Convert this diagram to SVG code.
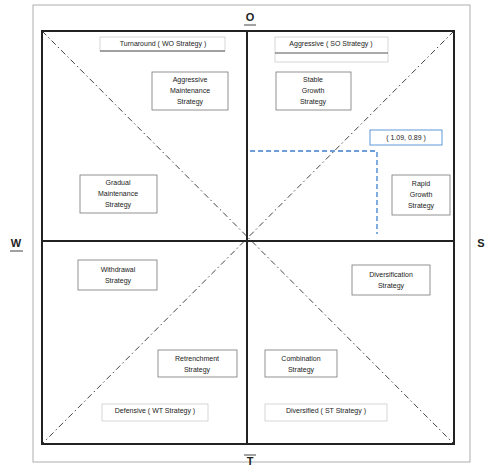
<svg xmlns="http://www.w3.org/2000/svg" width="486" height="469" viewBox="0 0 486 469">
<defs>
<style>
text{font-family:"Liberation Sans",Arial,sans-serif;fill:#222;text-anchor:middle}
.t{font-size:7px}
.h{font-size:7px}
.ax{font-size:11px;font-weight:bold}
.box{fill:#fff;stroke:#777;stroke-width:0.8}
.hb{fill:none;stroke:#bbb;stroke-width:0.6}
.ul{stroke:#555;stroke-width:1}
.diag{stroke:#444;stroke-width:1;stroke-dasharray:6 3 1.5 3;fill:none}
</style>
</defs>
<rect x="33" y="5" width="437" height="457" fill="none" stroke="#999" stroke-width="0.8"/>
<g id="connectors">
<line class="diag" x1="42" y1="31" x2="454" y2="444"/>
<line class="diag" x1="454" y1="31" x2="42" y2="444"/>
<line x1="42" y1="241" x2="454" y2="241" stroke="#222" stroke-width="2"/>
<line x1="247" y1="31" x2="247" y2="444" stroke="#222" stroke-width="2"/>
<path d="M250 151 H377 V234" fill="none" stroke="#3a7fd0" stroke-width="1.3" stroke-dasharray="5 3"/>
</g>
<rect x="42" y="31" width="412" height="413" fill="none" stroke="#222" stroke-width="2"/>
<g id="axis-labels">
<text class="ax" x="250" y="21">O</text><line x1="244" y1="25" x2="256" y2="25" stroke="#444"/>
<text class="ax" x="16" y="247">W</text><line x1="10" y1="251" x2="23" y2="251" stroke="#444"/>
<text class="ax" x="481" y="247">S</text>
<text class="ax" x="250" y="465">T</text><line x1="244" y1="455" x2="256" y2="455" stroke="#444"/>
</g>
<g id="hdr-tl"><rect class="hb" x="100" y="37" width="125" height="14"/><text class="h" x="163" y="46">Turnaround ( WO Strategy )</text><line class="ul" x1="100" y1="51" x2="225" y2="51"/></g>
<g id="hdr-tr"><rect class="hb" x="275" y="37" width="113" height="25"/><text class="h" x="331" y="46">Aggressive ( SO Strategy )</text><line class="ul" x1="275" y1="53" x2="388" y2="53"/></g>
<g id="hdr-bl"><rect class="hb" x="102" y="404" width="106" height="17"/><text class="h" x="155" y="413">Defensive ( WT Strategy )</text></g>
<g id="hdr-br"><rect class="hb" x="265" y="404" width="122" height="17"/><text class="h" x="326" y="413">Diversified ( ST Strategy )</text></g>
<g id="n-aggr-maint"><rect class="box" x="152" y="72" width="76" height="38"/><text class="t" x="190" y="82">Aggressive</text><text class="t" x="190" y="93">Maintenance</text><text class="t" x="190" y="104">Strategy</text></g>
<g id="n-stable"><rect class="box" x="276" y="72" width="75" height="38"/><text class="t" x="313" y="82">Stable</text><text class="t" x="313" y="93">Growth</text><text class="t" x="313" y="104">Strategy</text></g>
<g id="n-grad"><rect class="box" x="80" y="175" width="77" height="38"/><text class="t" x="118" y="185">Gradual</text><text class="t" x="118" y="196">Maintenance</text><text class="t" x="118" y="207">Strategy</text></g>
<g id="n-rapid"><rect class="box" x="392" y="175" width="58" height="40"/><text class="t" x="421" y="186">Rapid</text><text class="t" x="421" y="197">Growth</text><text class="t" x="421" y="208">Strategy</text></g>
<g id="n-point"><rect x="370" y="130" width="72" height="15" fill="#fff" stroke="#3a7fd0" stroke-width="0.8"/><text class="t" x="406" y="140">( 1.09, 0.89 )</text></g>
<g id="n-withdraw"><rect class="box" x="78" y="260" width="79" height="30"/><text class="t" x="118" y="272">Withdrawal</text><text class="t" x="118" y="283">Strategy</text></g>
<g id="n-divers"><rect class="box" x="352" y="265" width="78" height="30"/><text class="t" x="391" y="277">Diversification</text><text class="t" x="391" y="288">Strategy</text></g>
<g id="n-retrench"><rect class="box" x="158" y="350" width="79" height="27" stroke="#c99"/><text class="t" x="197" y="361">Retrenchment</text><text class="t" x="197" y="372">Strategy</text></g>
<g id="n-combo"><rect class="box" x="265" y="350" width="72" height="27" stroke="#dbb"/><text class="t" x="301" y="361">Combination</text><text class="t" x="301" y="372">Strategy</text></g>
</svg>
